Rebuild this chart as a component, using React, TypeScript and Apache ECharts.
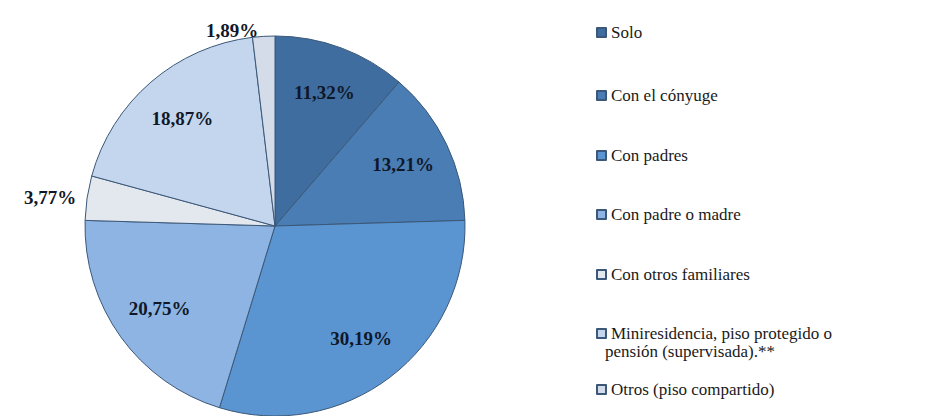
import React, { useEffect, useRef } from "react";
import * as echarts from "echarts";

const categories = [
  "Solo",
  "Con el cónyuge",
  "Con padres",
  "Con padre o madre",
  "Con otros familiares",
  "Miniresidencia, piso protegido o pensión (supervisada).**",
  "Otros (piso compartido)",
];
const values = [11.32, 13.21, 30.19, 20.75, 3.77, 18.87, 1.89];
const colors = ["#3f6d9f", "#4a7db3", "#5a95d2", "#8db4e2", "#e3e8ef", "#c3d6ee", "#d3dce8"];
const legendLines = [
  ["Solo"],
  ["Con el cónyuge"],
  ["Con padres"],
  ["Con padre o madre"],
  ["Con otros familiares"],
  ["Miniresidencia, piso protegido o", "pensión (supervisada).**"],
  ["Otros (piso compartido)"],
];
const legendTops = [29, 92, 152, 211, 271, 330, 386];

const SERIF = "Liberation Serif";
const fmt = (v: number) => v.toFixed(2).replace(".", ",") + "%";

export default function App() {
  const ref = useRef<HTMLDivElement>(null);
  useEffect(() => {
    if (!ref.current) return;
    const chart = echarts.init(ref.current, null, { renderer: "svg" });
    const center = [275, 226];
    const R = 190;
    const legends = categories.map((name, i) => ({
      left: 591,
      top: legendTops[i] - 10,
      itemWidth: 9,
      itemHeight: 9,
      icon: "rect",
      data: [name],
      formatter: legendLines[i][0],
      textStyle: {
        fontFamily: SERIF,
        fontSize: 17,
        color: "#1a1a1a",
      },
    }));
    const graphics: any[] = [];
    legendLines.forEach((lines, i) => {
      lines.slice(1).forEach((t, j) => {
        graphics.push({
          type: "text",
          left: 605,
          top: legendTops[i] - 10 + 23 * (j + 1),
          style: {
            text: t,
            fontFamily: SERIF,
            fontSize: 17,
            fill: "#1a1a1a",
          },
        });
      });
    });
    chart.setOption({
      animation: false,
      textStyle: { fontFamily: SERIF },
      legend: legends,
      graphic: graphics,
      series: [
        {
          type: "pie",
          center,
          radius: R,
          startAngle: 90,
          clockwise: true,
          label: { show: false },
          labelLine: { show: false },
          data: categories.map((name, i) => ({
            name,
            value: values[i],
            itemStyle: { color: colors[i] },
          })),
          itemStyle: { borderColor: "#3b5878", borderWidth: 1 },
          emphasis: { disabled: true },
        },
        {
          type: "pie",
          center,
          radius: [88, R],
          startAngle: 90,
          clockwise: true,
          silent: true,
          itemStyle: { color: "rgba(0,0,0,0)" },
          labelLine: { show: false, length: 6, length2: 0 },
          emphasis: { disabled: true },
          data: categories.map((name, i) => ({
            name,
            value: values[i],
            label: {
              show: true,
              position: values[i] < 5 ? "outside" : "inside",
              formatter: fmt(values[i]),
              fontFamily: SERIF,
              fontWeight: "bold",
              fontSize: 19,
              color: "#101828",
            },
          })),
        },
      ],
    });
    return () => chart.dispose();
  }, []);
  return (
    <div
      ref={ref}
      style={{ position: "absolute", left: 0, top: 0, width: 928, height: 416 }}
    />
  );
}
